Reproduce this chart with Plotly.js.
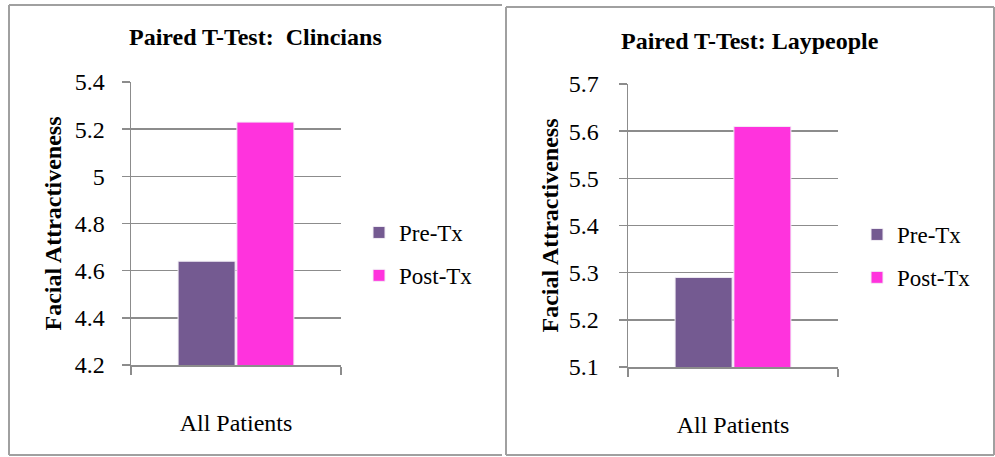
<!DOCTYPE html>
<html>
<head>
<meta charset="utf-8">
<script src="https://cdn.plot.ly/plotly-3.0.1.min.js"></script>
<style>
html,body{margin:0;padding:0;background:#fff;}
#chart{width:995px;height:457px;}
</style>
</head>
<body>
<div id="chart"></div>
<script>
// ---- data ----
var categories = ["All Patients"];
var seriesNames = ["Pre-Tx", "Post-Tx"];
var clinPre = [4.64];
var clinPost = [5.23];
var layPre = [5.29];
var layPost = [5.61];
var clinTicks = [4.2, 4.4, 4.6, 4.8, 5, 5.2, 5.4];
var layTicks = [5.1, 5.2, 5.3, 5.4, 5.5, 5.6, 5.7];
var titles = ["Paired T-Test:  Clincians", "Paired T-Test: Laypeople"];
var yTitle = "Facial Attractiveness";

// ---- styling ----
var W = 995, H = 457;
function px(x){ return x / W; }
function py(y){ return 1 - y / H; }
var FONT = "Liberation Serif";
var preColor = "#745a91";
var postColor = "#ff33dd";
var gridC = "#8c8c8c";

function barTrace(name, y, color, xa, ya, leg, grp){
  return {
    type: "bar", name: name, x: categories, y: y,
    xaxis: xa, yaxis: ya, legend: leg, legendgroup: grp, showlegend: true,
    marker: {color: color, line: {color: "#f2eef5", width: 1}},
    hoverinfo: "y+name"
  };
}

var data = [
  barTrace(seriesNames[0], clinPre, preColor, "x", "y", "legend", "a1"),
  barTrace(seriesNames[1], clinPost, postColor, "x", "y", "legend", "a2"),
  barTrace(seriesNames[0], layPre, preColor, "x2", "y2", "legend2", "b1"),
  barTrace(seriesNames[1], layPost, postColor, "x2", "y2", "legend2", "b2")
];

function xAxis(d0, d1, anchor){
  return {
    domain: [d0, d1], anchor: anchor, type: "category",
    showline: true, linecolor: gridC, linewidth: 1.5,
    ticks: "outside", tickson: "boundaries", ticklen: 8, tickcolor: gridC, tickwidth: 1.5,
    ticklabelstandoff: 36,
    tickfont: {family: FONT, size: 24, color: "#000"},
    showgrid: false, fixedrange: true, automargin: false
  };
}
function yAxis(d0, d1, anchor, range, tickvals, standoff, titleStandoff){
  return {
    domain: [d0, d1], anchor: anchor, range: range,
    tickmode: "array", tickvals: tickvals,
    showline: true, linecolor: gridC, linewidth: 1.5,
    ticks: "outside", ticklen: 8, tickcolor: gridC, tickwidth: 1.5,
    ticklabelstandoff: standoff,
    showgrid: true, gridcolor: gridC, gridwidth: 1.5, zeroline: false,
    tickfont: {family: FONT, size: 24, color: "#000"},
    title: {text: yTitle, font: {family: FONT, size: 24, color: "#000", weight: "bold"}, standoff: titleStandoff},
    automargin: false, fixedrange: true
  };
}

var legendBase = {
  font: {family: FONT, size: 23, color: "#000"},
  bgcolor: "rgba(0,0,0,0)", borderwidth: 0,
  traceorder: "grouped", tracegroupgap: 10,
  xanchor: "left", yanchor: "top"
};

var borderLine = {color: "#a0a0a0", width: 2};
function seg(x0, y0, x1, y1){
  return {type: "line", xref: "paper", yref: "paper",
          x0: px(x0), y0: py(y0), x1: px(x1), y1: py(y1), line: borderLine};
}

var layout = {
  width: W, height: H,
  font: {family: FONT, size: 24, color: "#000"},
  margin: {l: 0, r: 0, t: 0, b: 0, pad: 0, autoexpand: false},
  paper_bgcolor: "#fff", plot_bgcolor: "rgba(0,0,0,0)",
  barmode: "group", bargap: 0.44, bargroupgap: 0.03,
  xaxis: xAxis(px(131), px(341), "y"),
  yaxis: yAxis(py(365), py(82), "x", [4.2, 5.4], clinTicks, 12, 6),
  xaxis2: xAxis(px(628), px(838), "y2"),
  yaxis2: yAxis(py(367), py(84), "x2", [5.1, 5.7], layTicks, 15, 3),
  legend: Object.assign({}, legendBase, {x: px(359), y: py(211)}),
  legend2: Object.assign({}, legendBase, {x: px(857), y: py(213)}),
  annotations: [
    {text: titles[0], xref: "paper", yref: "paper", x: px(255), y: py(37),
     xanchor: "center", yanchor: "middle", showarrow: false,
     font: {family: FONT, size: 24, color: "#000", weight: "bold"}},
    {text: titles[1], xref: "paper", yref: "paper", x: px(750), y: py(41),
     xanchor: "center", yanchor: "middle", showarrow: false,
     font: {family: FONT, size: 24, color: "#000", weight: "bold"}}
  ],
  shapes: [
    seg(9, 5, 9, 455), seg(9, 5, 502, 5), seg(9, 455, 502, 455),
    seg(506, 7, 506, 455), seg(506, 7, 994, 7), seg(506, 455, 994, 455), seg(994, 7, 994, 455)
  ]
};

Plotly.newPlot("chart", data, layout, {displayModeBar: false, staticPlot: true});
</script>
</body>
</html>
